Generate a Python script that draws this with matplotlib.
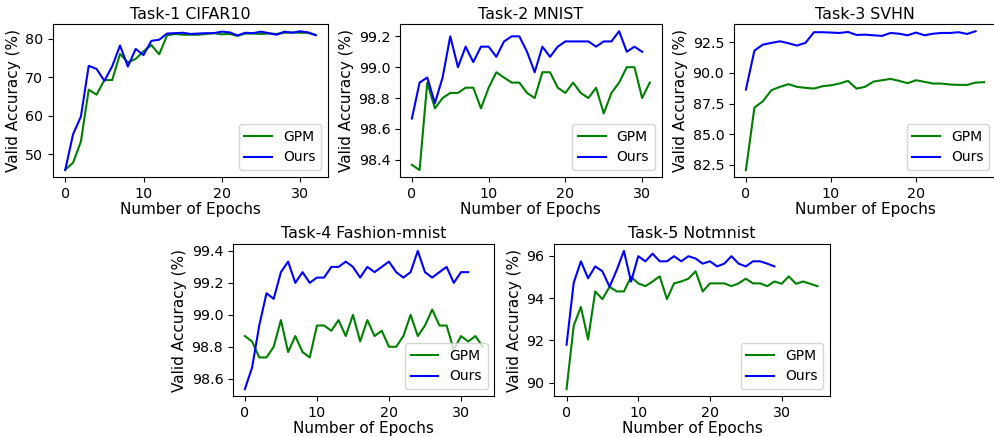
import matplotlib
matplotlib.use('Agg')
import matplotlib.pyplot as plt
import numpy as np

# Task-1 CIFAR10
cifar_gpm = [46.0, 47.8, 53.3, 66.8, 65.5, 69.3, 69.3, 76.1, 73.9, 74.8, 76.8, 78.4, 76.0,
             80.9, 81.3, 81.1, 81.1, 81.1, 81.3, 81.5, 81.2, 81.3, 80.8, 81.4, 81.4, 81.3,
             81.4, 81.3, 81.6, 81.7, 81.6, 81.6, 81.0]
cifar_ours = [45.9, 55.2, 59.8, 73.0, 72.2, 69.1, 72.9, 78.3, 72.8, 77.4, 75.8, 79.5, 79.8,
              81.4, 81.5, 81.6, 81.3, 81.4, 81.5, 81.5, 81.9, 81.7, 80.9, 81.6, 81.5, 81.9,
              81.5, 81.1, 81.9, 81.6, 82.0, 81.7, 81.0]

# Task-2 MNIST
mnist_gpm = [98.367, 98.333, 98.9, 98.733, 98.8, 98.833, 98.833, 98.867, 98.867, 98.733,
             98.867, 98.967, 98.933, 98.9, 98.9, 98.833, 98.8, 98.967, 98.967, 98.867,
             98.833, 98.9, 98.833, 98.8, 98.867, 98.7, 98.833, 98.9, 99.0, 99.0, 98.8, 98.9]
mnist_ours = [98.667, 98.9, 98.933, 98.767, 98.933, 99.2, 99.0, 99.133, 99.033, 99.133,
              99.133, 99.067, 99.167, 99.2, 99.2, 99.1, 98.967, 99.133, 99.067, 99.133,
              99.167, 99.167, 99.167, 99.167, 99.133, 99.167, 99.167, 99.233, 99.1, 99.133, 99.1]

# Task-3 SVHN
svhn_gpm = [82.07, 87.17, 87.69, 88.59, 88.86, 89.08, 88.86, 88.78, 88.72, 88.91, 88.99,
            89.13, 89.35, 88.72, 88.86, 89.29, 89.40, 89.51, 89.35, 89.16, 89.40, 89.27,
            89.13, 89.13, 89.05, 89.02, 89.02, 89.21, 89.24]
svhn_ours = [88.64, 91.82, 92.31, 92.45, 92.58, 92.42, 92.23, 92.45, 93.32, 93.32, 93.29,
             93.26, 93.34, 93.10, 93.12, 93.07, 93.02, 93.26, 93.20, 93.07, 93.29, 93.07,
             93.20, 93.26, 93.26, 93.32, 93.18, 93.40]

# Task-4 Fashion-mnist
fashion_gpm = [98.867, 98.833, 98.733, 98.733, 98.8, 98.967, 98.767, 98.867, 98.767, 98.733,
               98.933, 98.933, 98.9, 98.967, 98.867, 99.0, 98.833, 98.967, 98.867, 98.9,
               98.8, 98.8, 98.867, 99.0, 98.867, 98.933, 99.033, 98.933, 98.933, 98.78,
               98.867, 98.833, 98.867, 98.8]
fashion_ours = [98.535, 98.67, 98.935, 99.135, 99.1, 99.267, 99.333, 99.2, 99.267, 99.2,
                99.233, 99.233, 99.3, 99.3, 99.333, 99.3, 99.233, 99.3, 99.267, 99.3,
                99.333, 99.267, 99.233, 99.267, 99.4, 99.267, 99.233, 99.267, 99.3, 99.2,
                99.267, 99.267]

# Task-5 Notmnist
notmnist_gpm = [89.71, 92.7, 93.58, 92.05, 94.31, 93.95, 94.53, 94.31, 94.31, 95.0, 94.69,
                94.56, 94.78, 95.02, 93.95, 94.69, 94.78, 94.91, 95.26, 94.31, 94.69, 94.69,
                94.69, 94.56, 94.69, 94.91, 94.69, 94.69, 94.56, 94.78, 94.67, 95.02, 94.67,
                94.78, 94.67, 94.56]
notmnist_ours = [91.8, 94.72, 95.73, 94.93, 95.49, 95.26, 94.53, 95.32, 96.22, 94.77, 95.97,
                 95.73, 96.09, 95.73, 95.73, 95.97, 95.73, 95.97, 95.86, 95.62, 95.73, 95.49,
                 95.62, 95.97, 95.62, 95.49, 95.73, 95.73, 95.62, 95.49]

titles = ['Task-1 CIFAR10', 'Task-2 MNIST', 'Task-3 SVHN', 'Task-4 Fashion-mnist', 'Task-5 Notmnist']
series = [(cifar_gpm, cifar_ours), (mnist_gpm, mnist_ours), (svhn_gpm, svhn_ours),
          (fashion_gpm, fashion_ours), (notmnist_gpm, notmnist_ours)]

W, H = 994, 437
fig = plt.figure(figsize=(W / 100, H / 100), dpi=100)

# axes boxes in pixels: left, right, top, bottom
boxes = [(52.7, 328.3, 24.3, 177), (400, 661.7, 24.3, 177), (734, 996, 24.3, 177),
         (233, 494.5, 244, 396), (554, 830, 244, 396)]

for (l, r, t, b), title, (gpm, ours) in zip(boxes, titles, series):
    ax = fig.add_axes([l / W, 1 - b / H, (r - l) / W, (b - t) / H])
    ax.plot(np.arange(len(gpm)), gpm, color='green', linewidth=1.5, label='GPM')
    ax.plot(np.arange(len(ours)), ours, color='blue', linewidth=1.5, label='Ours')
    ax.set_title(title, fontsize=11.4, pad=4)
    ax.set_xlabel('Number of Epochs', fontsize=11, labelpad=1)
    ax.set_ylabel('Valid Accuracy (%)', fontsize=11, labelpad=3)
    ax.tick_params(labelsize=10.3)
    ax.legend(loc='lower right', fontsize=10)

fig.savefig('out.png', dpi=100)
